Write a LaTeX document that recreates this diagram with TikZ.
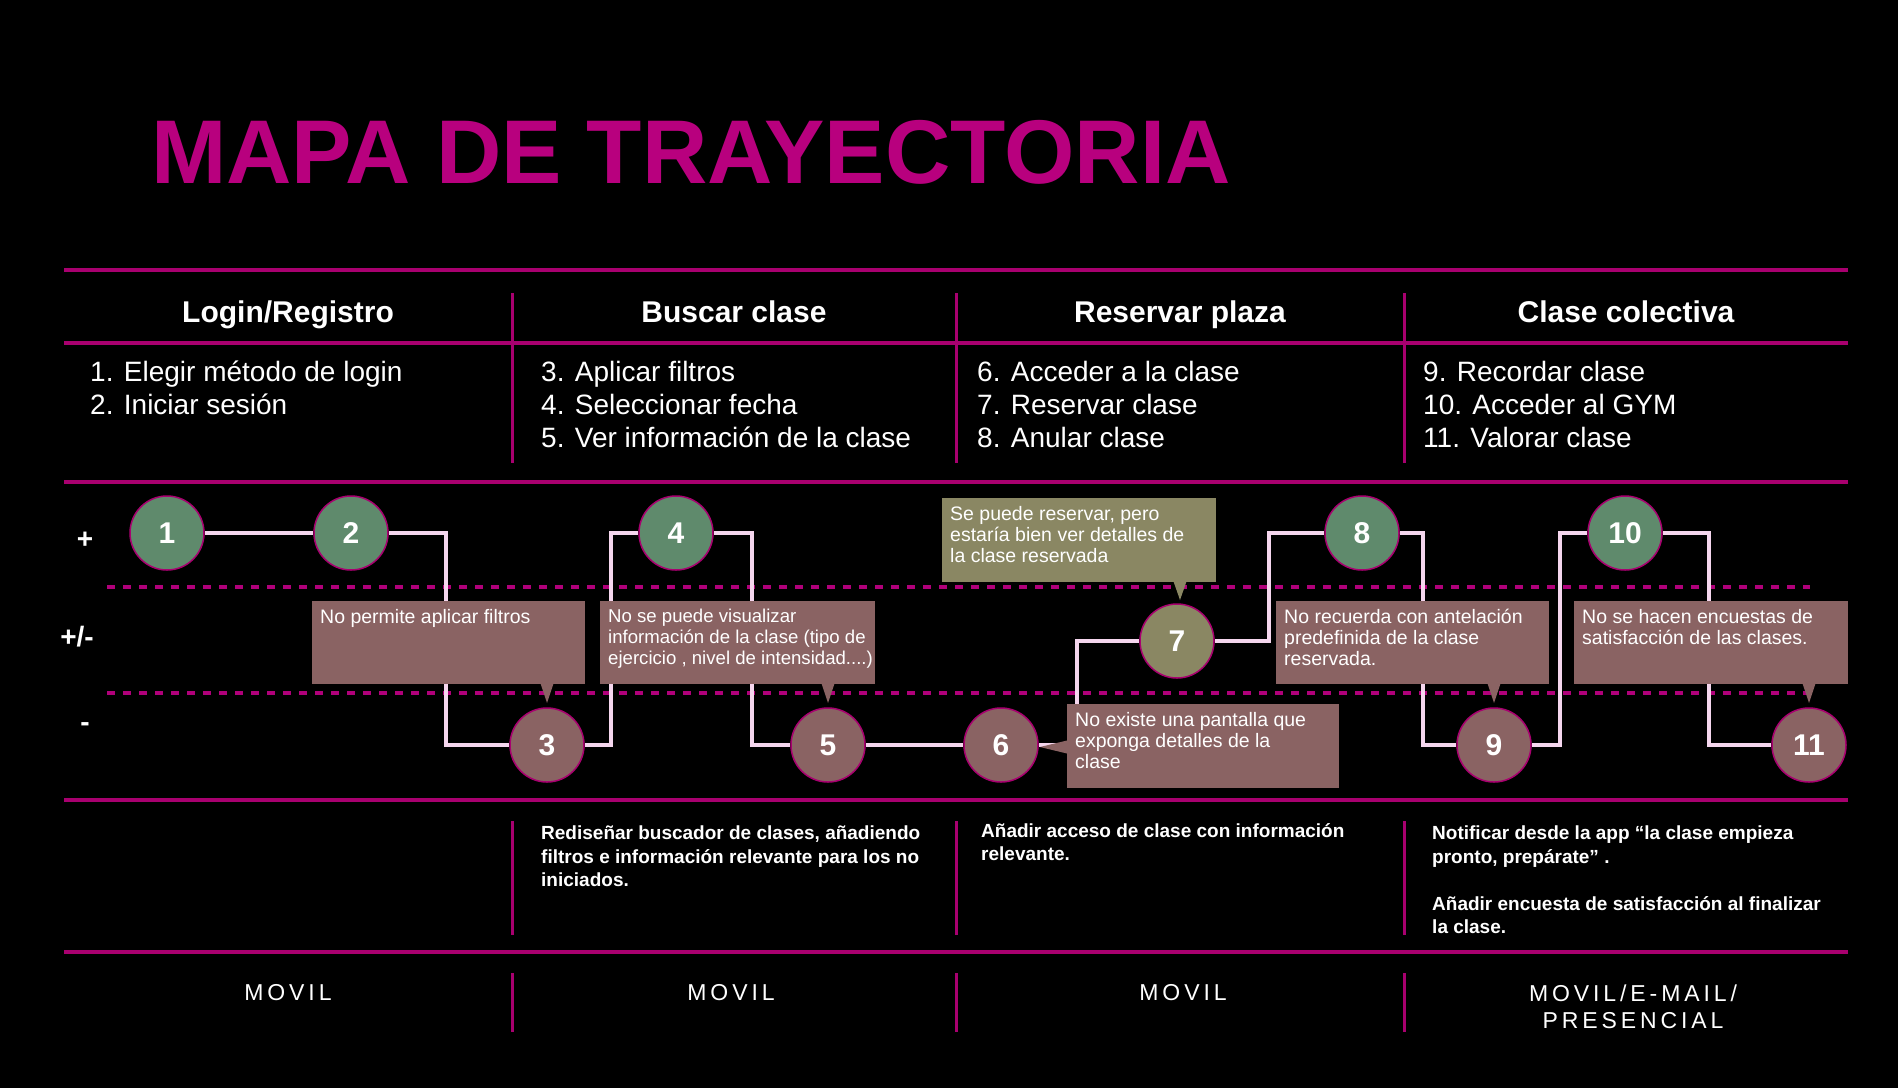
\documentclass[tikz,border=0pt]{standalone}
\usepackage{fontspec}
\setmainfont{Liberation Sans}
\newfontfamily\spacedfont[LetterSpace=17]{Liberation Sans}
\usepackage{tikz}

\definecolor{titlemag}{HTML}{B8007E}
\definecolor{magline}{HTML}{A8006F}
\definecolor{dotmag}{HTML}{B0007A}
\definecolor{linkpink}{HTML}{F5D6EE}
\definecolor{goodgreen}{HTML}{5F8A6C}
\definecolor{badbrown}{HTML}{8A6363}
\definecolor{midolive}{HTML}{8A8763}

\begin{document}
\begin{tikzpicture}[
  x=1pt, y=-1pt,
  rule/.style={magline, line width=4pt},
  divider/.style={magline, line width=3pt},
  dotline/.style={dotmag, line width=4pt, dash pattern=on 8pt off 8pt},
  link/.style={linkpink, line width=3.5pt},
  stepnode/.style={circle, minimum size=74pt, inner sep=0pt, draw=magline, line width=1.5pt, text=white, font=\fontsize{30}{30}\selectfont\bfseries},
  good/.style={stepnode, fill=goodgreen},
  bad/.style={stepnode, fill=badbrown},
  fair/.style={stepnode, fill=midolive},
  note/.style={anchor=north west, inner sep=0pt, fill=badbrown},
  notetext/.style={anchor=north west, inner sep=0pt, align=left, text=white, font=\fontsize{19.5}{21}\selectfont},
  head/.style={anchor=base, text=white, font=\fontsize{30}{36}\selectfont\bfseries},
  items/.style={anchor=north west, inner sep=0pt, align=left, text=white, font=\fontsize{28}{33}\selectfont},
  idea/.style={anchor=north west, inner sep=0pt, align=left, text=white, font=\fontsize{19}{23.5}\selectfont\bfseries},
  channel/.style={align=center, text=white, font=\fontsize{23}{27}\selectfont\spacedfont},
  rowlabel/.style={text=white, font=\fontsize{28}{28}\selectfont\bfseries}
]
\fill[black] (0,0) rectangle (1898,1088);
\useasboundingbox (0,0) rectangle (1898,1088);

% Title
\node[anchor=base west, inner sep=0pt, text=titlemag, font=\fontsize{90.5}{90}\selectfont\bfseries] (title) at (151,183) {MAPA DE TRAYECTORIA};

% Table
\foreach \y in {270,343,482,800,952} \draw[rule] (64,\y) -- (1848,\y);
\foreach \x in {512,956,1404} {
  \draw[divider] (\x,293) -- (\x,463);
  \draw[divider] (\x,821) -- (\x,935);
  \draw[divider] (\x,973) -- (\x,1032);
}

% Stages
\node[head] (h1) at (288,322) {Login/Registro};
\node[head] (h2) at (734,322) {Buscar clase};
\node[head] (h3) at (1180,322) {Reservar plaza};
\node[head] (h4) at (1626,322) {Clase colectiva};
\node[items] (l1) at (90,361) {1. Elegir método de login\\2. Iniciar sesión};
\node[items] (l2) at (541,361) {3. Aplicar filtros\\4. Seleccionar fecha\\5. Ver información de la clase};
\node[items] (l3) at (977,361) {6. Acceder a la clase\\7. Reservar clase\\8. Anular clase};
\node[items] (l4) at (1423,361) {9. Recordar clase\\10. Acceder al GYM\\11. Valorar clase};

% Levels
\node[rowlabel] (plus) at (85,540) {+};
\node[rowlabel] (mid) at (77,637) {+/-};
\node[rowlabel] (minus) at (85,727) {-};
\draw[dotline] (107,587) -- (1810,587);
\draw[dotline] (107,693) -- (1810,693);

% Steps
\node[good] (s1) at (167,533) {1};
\node[good] (s2) at (351,533) {2};
\node[bad] (s3) at (547,745) {3};
\node[good] (s4) at (676,533) {4};
\node[bad] (s5) at (828,745) {5};
\node[bad] (s6) at (1001,745) {6};
\node[fair] (s7) at (1177,641) {7};
\node[good] (s8) at (1362,533) {8};
\node[bad] (s9) at (1494,745) {9};
\node[good] (s10) at (1625,533) {10};
\node[bad] (s11) at (1809,745) {11};

% Journey
\draw[link] (s1) -- (s2);
\draw[link] (s2) -- ++(95,0) |- (s3);
\draw[link] (s3) -- ++(64,0) |- (s4);
\draw[link] (s4) -- ++(76,0) |- (s5);
\draw[link] (s5) -- (s6);
\draw[link] (s6) -- ++(76,0) |- (s7);
\draw[link] (s7) -- ++(92,0) |- (s8);
\draw[link] (s8) -- ++(61,0) |- (s9);
\draw[link] (s9) -- ++(66,0) |- (s10);
\draw[link] (s10) -- ++(84,0) |- (s11);

% Pain points
\node[note, minimum width=273pt, minimum height=83pt] (b3) at (312,601) {};
\coordinate (t3) at (547,703);
\fill[badbrown] (t3) -- ++(-7,-21) -- ++(14,0) -- cycle;
\node[notetext] (p3) at ([xshift=8pt,yshift=-8pt]b3.north west) {No permite aplicar filtros};

\node[note, minimum width=275pt, minimum height=83pt] (b5) at (600,601) {};
\coordinate (t5) at (828,703);
\fill[badbrown] (t5) -- ++(-7,-21) -- ++(14,0) -- cycle;
\node[notetext, font=\fontsize{18.6}{21}\selectfont] (p5) at ([xshift=8pt,yshift=-8pt]b5.north west) {No se puede visualizar\\información de la clase (tipo de\\ejercicio , nivel de intensidad....)};

\node[note, fill=midolive, minimum width=274pt, minimum height=84pt] (b7) at (942,498) {};
\coordinate (t7) at (1180,600);
\fill[midolive] (t7) -- ++(-7,-20) -- ++(14,0) -- cycle;
\node[notetext] (p7) at ([xshift=8pt,yshift=-8pt]b7.north west) {Se puede reservar, pero\\estaría bien ver detalles de\\la clase reservada};

\node[note, minimum width=272pt, minimum height=84pt] (b6) at (1067,704) {};
\coordinate (t6) at (1040,747);
\fill[badbrown] (t6) -- ++(29,-7) -- ++(0,14) -- cycle;
\node[notetext] (p6) at ([xshift=8pt,yshift=-8pt]b6.north west) {No existe una pantalla que\\exponga detalles de la\\clase};

\node[note, minimum width=273pt, minimum height=83pt] (b9) at (1276,601) {};
\coordinate (t9) at (1494,703);
\fill[badbrown] (t9) -- ++(-7,-21) -- ++(14,0) -- cycle;
\node[notetext] (p9) at ([xshift=8pt,yshift=-8pt]b9.north west) {No recuerda con antelación\\predefinida de la clase\\reservada.};

\node[note, minimum width=274pt, minimum height=83pt] (b11) at (1574,601) {};
\coordinate (t11) at (1809,703);
\fill[badbrown] (t11) -- ++(-7,-21) -- ++(14,0) -- cycle;
\node[notetext] (p11) at ([xshift=8pt,yshift=-8pt]b11.north west) {No se hacen encuestas de\\satisfacción de las clases.};

% Ideas
\node[idea] (r2) at (541,826) {Rediseñar buscador de clases, añadiendo\\filtros e información relevante para los no\\iniciados.};
\node[idea] (r3) at (981,823) {Añadir acceso de clase con información\\relevante.};
\node[idea] (r4) at (1432,826) {Notificar desde la app “la clase empieza\\pronto, prepárate” .\\[23.5pt]Añadir encuesta de satisfacción al finalizar\\la clase.};

% Channels
\node[channel] (m1) at (288,993) {MOVIL};
\node[channel] (m2) at (731,993) {MOVIL};
\node[channel] (m3) at (1183,993) {MOVIL};
\node[channel] (m4) at (1633,1007) {MOVIL/E-MAIL/\\PRESENCIAL};
\end{tikzpicture}
\end{document}
